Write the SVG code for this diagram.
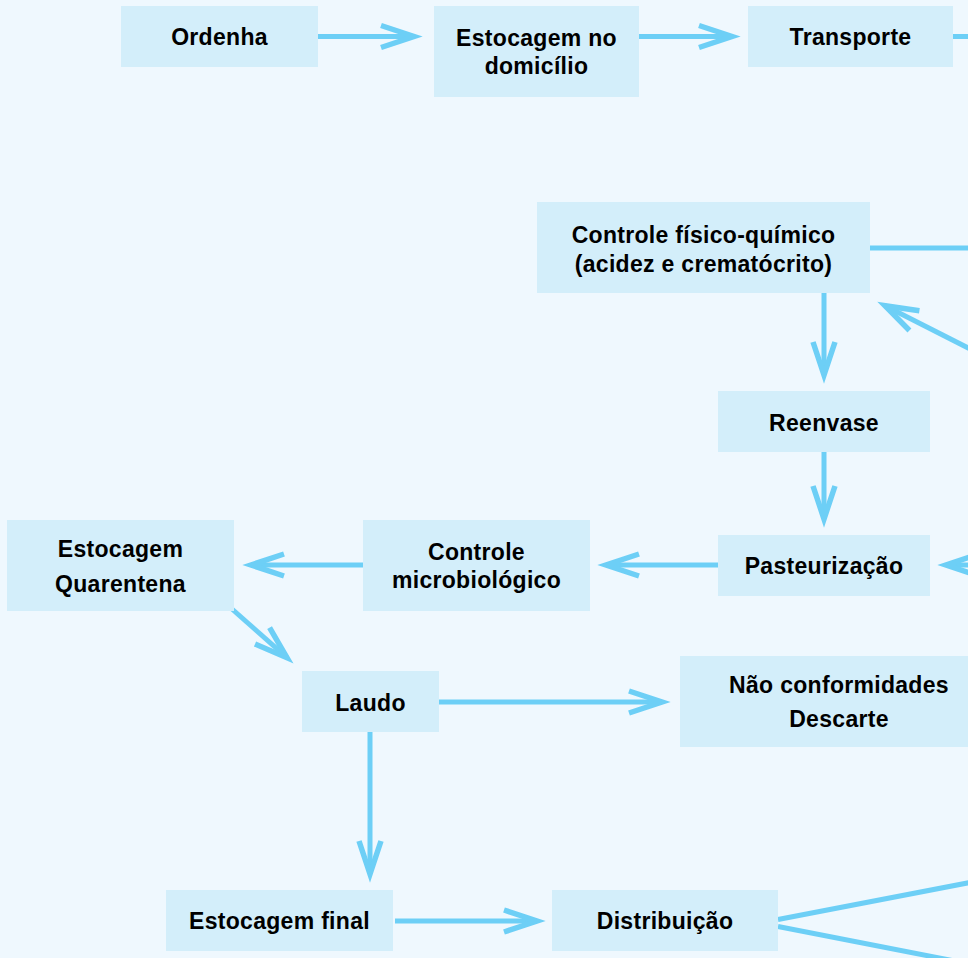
<svg xmlns="http://www.w3.org/2000/svg" width="968" height="958" viewBox="0 0 968 958">
<style>
.bg{fill:#eff8fe}
.box{fill:#d3eefa}
.t{font-family:"Liberation Sans",Arial,sans-serif;font-weight:bold;font-size:23px;fill:#000;text-anchor:middle;letter-spacing:0.3px}
.c{stroke:#6dcff6;stroke-width:5;fill:none}
.a{marker-end:url(#ah)}
</style>
<defs>
<marker id="ah" markerUnits="userSpaceOnUse" orient="auto" markerWidth="60" markerHeight="40" refX="0" refY="0" viewBox="-45 -20 60 40" overflow="visible">
<path d="M-33,-11 L0,0 L-33,11" fill="none" stroke="#6dcff6" stroke-width="5.5" stroke-linejoin="miter" stroke-miterlimit="10"/>
</marker>
</defs>
<rect class="bg" x="0" y="0" width="968" height="958"/>

<g id="connectors">
<line class="c a" x1="318" y1="36.5" x2="414" y2="36.5"/>
<line class="c a" x1="639" y1="36.5" x2="732" y2="36.5"/>
<line class="c" x1="953" y1="36.5" x2="970" y2="36.5"/>
<line class="c" x1="870" y1="248" x2="970" y2="248"/>
<line class="c a" x1="990" y1="359" x2="885" y2="305.7"/>
<line class="c a" x1="824" y1="293" x2="824" y2="375"/>
<line class="c a" x1="824" y1="452" x2="824" y2="519"/>
<line class="c a" x1="990" y1="565" x2="946" y2="565"/>
<line class="c a" x1="718" y1="565" x2="606" y2="565"/>
<line class="c a" x1="363" y1="565" x2="251" y2="565"/>
<line class="c a" x1="232" y1="609" x2="287" y2="657.7"/>
<line class="c a" x1="439" y1="702" x2="662" y2="702"/>
<line class="c a" x1="370" y1="732" x2="370" y2="874"/>
<line class="c a" x1="395" y1="921" x2="537" y2="921"/>
<line class="c" x1="778" y1="919.5" x2="970" y2="882.5"/>
<line class="c" x1="778" y1="926.5" x2="970" y2="964"/>
</g>

<g id="ordenha"><rect class="box" x="121" y="6" width="197" height="61"/><text class="t" x="219.5" y="44.5">Ordenha</text></g>
<g id="estocagem-domicilio"><rect class="box" x="434" y="6" width="205" height="91"/><text class="t" x="536.5" y="45.5">Estocagem no</text><text class="t" x="536.5" y="74">domicílio</text></g>
<g id="transporte"><rect class="box" x="748" y="6" width="205" height="61"/><text class="t" x="850.5" y="44.5">Transporte</text></g>
<g id="controle-fq"><rect class="box" x="537" y="202" width="333" height="91"/><text class="t" x="703.5" y="243">Controle físico-químico</text><text class="t" x="703.5" y="272">(acidez e crematócrito)</text></g>
<g id="reenvase"><rect class="box" x="718" y="391" width="212" height="61"/><text class="t" x="824" y="430.5">Reenvase</text></g>
<g id="pasteurizacao"><rect class="box" x="718" y="535" width="212" height="61"/><text class="t" x="824" y="574">Pasteurização</text></g>
<g id="controle-micro"><rect class="box" x="363" y="520" width="227" height="91"/><text class="t" x="476.5" y="559.5">Controle</text><text class="t" x="476.5" y="588">microbiológico</text></g>
<g id="estocagem-quarentena"><rect class="box" x="7" y="520" width="227" height="91"/><text class="t" x="120.5" y="557">Estocagem</text><text class="t" x="120.5" y="592">Quarentena</text></g>
<g id="laudo"><rect class="box" x="302" y="671" width="137" height="61"/><text class="t" x="370.5" y="711">Laudo</text></g>
<g id="nao-conformidades"><rect class="box" x="680" y="656" width="318" height="91"/><text class="t" x="839" y="693">Não conformidades</text><text class="t" x="839" y="727">Descarte</text></g>
<g id="estocagem-final"><rect class="box" x="166" y="890" width="227" height="61"/><text class="t" x="279.5" y="929">Estocagem final</text></g>
<g id="distribuicao"><rect class="box" x="552" y="890" width="226" height="61"/><text class="t" x="665" y="929">Distribuição</text></g>
</svg>
